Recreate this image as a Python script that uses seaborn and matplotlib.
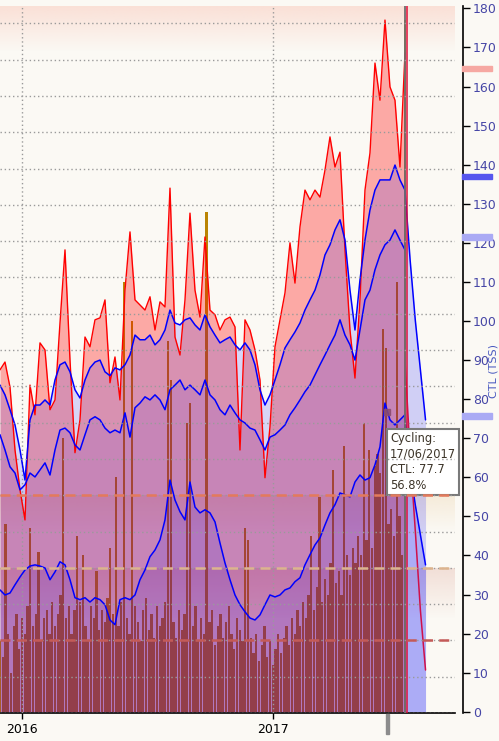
import numpy as np
import pandas as pd
import seaborn as sns
import matplotlib.pyplot as plt
import matplotlib.dates as mdates
from matplotlib.patches import Rectangle
from matplotlib.ticker import MultipleLocator
from matplotlib.transforms import blended_transform_factory

sns.set_theme(style="white")
plt.rcParams['font.family'] = ['DejaVu Sans']

# --- data --------------------------------------------------------------
start_day = '2015-11-30'
today = '2017-07-13'
proj_end = '2017-08-12'

# red stress line (light red fill)
red_line = [87.5, 89.5, 83.1, 67.0, 56.8, 49.1, 83.6, 76.0, 94.4, 92.6,
            77.3, 79.8, 99.5, 118.2, 90.0, 66.3, 74.7, 95.9, 93.4, 100.3,
            100.8, 105.4, 84.2, 90.8, 79.8, 107.9, 122.8, 105.4, 104.1, 102.8,
            106.2, 97.7, 104.9, 103.6, 134.0, 95.9, 91.3, 105.4, 127.6, 107.9,
            101.0, 121.5, 102.8, 101.6, 97.7, 100.3, 101.0, 98.5, 67.0, 100.3,
            97.7, 92.6, 84.9, 59.9, 72.9, 93.4, 100.3, 107.2, 120.0, 109.7,
            124.1, 133.5, 131.0, 133.5, 131.7, 138.6, 147.1, 139.4, 143.2, 118.2,
            97.7, 85.4, 105.4, 133.5, 143.0, 166.0, 156.5, 177.0, 159.9, 156.5,
            139.4, 168.6]
# upper blue line
upper_blue = [83.6, 81.1, 77.3, 73.4, 67.0, 59.3, 74.7, 78.5, 78.5, 79.8,
              78.5, 84.9, 88.8, 89.5, 87.0, 82.4, 80.3, 84.9, 88.0, 89.5,
              90.0, 87.0, 86.0, 88.0, 87.5, 88.8, 91.3, 96.4, 95.2, 95.2,
              96.4, 93.9, 95.2, 97.7, 102.8, 99.5, 99.0, 100.3, 100.8, 99.0,
              97.7, 101.6, 98.5, 96.4, 94.4, 95.2, 95.9, 93.9, 92.6, 94.4,
              92.6, 88.8, 82.4, 78.5, 81.1, 84.9, 88.8, 93.1, 95.2, 97.2,
              99.5, 102.8, 105.4, 107.9, 111.8, 116.9, 119.5, 123.3, 125.9, 120.7,
              107.9, 97.7, 110.5, 120.7, 128.4, 133.5, 136.1, 136.1, 136.1, 139.9,
              136.1, 133.5]
# second blue line
mid_blue = [70.9, 67.0, 62.7, 61.1, 56.8, 58.1, 61.1, 60.1, 61.9, 63.7,
            60.6, 67.0, 72.1, 72.6, 71.4, 68.3, 67.0, 70.9, 74.7, 75.5,
            74.7, 72.6, 71.4, 72.1, 71.4, 76.5, 70.3, 77.8, 79.0, 80.6,
            79.8, 81.1, 79.8, 77.3, 82.4, 83.6, 84.9, 82.4, 83.6, 82.4,
            81.1, 84.9, 81.1, 79.8, 77.3, 76.0, 78.5, 76.5, 74.7, 73.9,
            72.6, 72.1, 69.6, 67.0, 70.3, 70.9, 72.1, 73.4, 76.0, 77.8,
            79.8, 81.9, 83.6, 86.2, 88.8, 91.3, 93.9, 96.4, 100.3, 96.4,
            93.9, 90.0, 97.7, 105.4, 107.9, 113.1, 116.9, 119.5, 120.7, 123.3,
            120.7, 118.2]
# CTL (right axis)
ctl = [31.2, 29.9, 30.4, 32.5, 34.5, 36.3, 37.3, 37.6, 37.3, 36.8,
       33.8, 35.8, 38.4, 37.6, 33.8, 29.2, 28.7, 29.2, 28.1, 29.2,
       28.7, 27.4, 23.5, 22.3, 28.7, 29.2, 28.7, 29.9, 33.8, 36.3,
       39.7, 41.4, 44.0, 49.1, 59.3, 54.2, 51.2, 49.1, 58.8, 52.4,
       50.9, 51.7, 50.9, 48.6, 43.2, 38.1, 33.8, 29.9, 27.4, 25.6,
       24.0, 23.5, 24.8, 27.4, 29.9, 29.4, 29.9, 31.2, 31.7, 33.3,
       34.3, 37.6, 40.2, 42.7, 44.5, 47.8, 50.9, 53.0, 56.0, 55.5,
       55.0, 58.8, 60.6, 59.3, 59.9, 63.2, 67.8, 79.0, 74.7, 73.4,
       74.7, 76.0]

# projection after today
red_proj = [90.0, 66.0, 46.5, 26.0, 10.7]
upper_proj = [133.5, 115.6, 100.3, 87.5, 74.7]
ctl_proj = [76.0, 61.9, 53.0, 45.3, 37.6]

# daily stress bars
daily_stress = [18, 14, 48, 20, 10, 22, 25, 16, 24, 20,
                27, 47, 22, 25, 41, 18, 24, 26, 20, 28,
                22, 25, 30, 70, 24, 27, 20, 26, 45, 28,
                40, 22, 18, 27, 24, 36, 21, 26, 23, 29,
                42, 25, 60, 22, 28, 110, 24, 20, 100, 27,
                23, 18, 26, 29, 21, 25, 19, 27, 22, 24,
                28, 95, 85, 23, 19, 26, 21, 25, 74, 79,
                22, 27, 18, 24, 20, 128, 23, 26, 17, 22,
                25, 19, 23, 27, 20, 16, 24, 21, 18, 47,
                44, 19, 15, 20, 13, 17, 22, 14, 18, 12,
                16, 20, 15, 19, 22, 17, 24, 20, 26, 22,
                28, 24, 30, 45, 26, 32, 55, 28, 34, 30,
                38, 62, 33, 36, 30, 68, 40, 35, 42, 38,
                45, 40, 74, 44, 67, 42, 63, 66, 61, 98,
                93, 48, 52, 45, 110, 50, 40, 177]

# zones on the hidden left scale (0..194.8)
left_top = 194.8
zone_lines = [20, 40, 60]
zone_colors = ['#c45a58', '#dcb48e', '#e47a5c']

# current-value markers on the right axis
marker_vals = [164.7, 136.9, 121.5, 75.7]
marker_cols = ['#f6a8a2', '#5656ee', '#aaaaf4', '#aaaaf4']

tooltip_date = '2017-06-17'
tooltip_ctl = 77.7
tooltip_pct = '56.8%'

dates = pd.date_range(start_day, today, periods=len(ctl))
pdates = pd.date_range(today, proj_end, periods=len(ctl_proj))
bdates = pd.date_range(start_day, today, periods=len(daily_stress))

bg = '#fbf9f4'
fig = plt.figure(figsize=(4.99, 7.41), dpi=100, facecolor=bg)
ax = fig.add_axes([0, 1 - 713 / 741, 455 / 499, 707 / 741])
ax.set_facecolor(bg)

# hidden left scale for grid and zones (twinx resets ax ticks, so make it first)
ax_g = ax.twinx()

# zone gradients (under everything)
def band(y0, y1, rgb, a_top):
    n = 64
    grad = np.zeros((n, 1, 4))
    grad[:, 0, :3] = np.array(rgb) / 255
    grad[:, 0, 3] = np.linspace(0, a_top, n)
    ax.imshow(grad, extent=[0, 1, y0 / left_top, y1 / left_top], origin='lower',
              transform=ax.transAxes, aspect='auto', zorder=0.2, interpolation='bilinear')

band(182, left_top, (250, 215, 204), 0.75)
band(50, 60, (242, 226, 200), 0.6)
band(26, 40, (236, 206, 196), 0.6)

# bars
ax.bar(bdates, daily_stress, width=3.3, color='#ba8403', linewidth=0, zorder=0.8)

# fills
ax.fill_between(dates, red_line, 0, color='#ff0000', alpha=0.32, lw=0, zorder=1)
ax.fill_between(dates, upper_blue, 0, color='#0000ff', alpha=0.14, lw=0, zorder=1)
ax.fill_between(dates, mid_blue, 0, color='#0000ff', alpha=0.08, lw=0, zorder=1)
ax.fill_between(dates, ctl, 0, color='#0000ff', alpha=0.10, lw=0, zorder=1)
ax.fill_between(pdates, upper_proj, 0, color='#0000ff', alpha=0.17, lw=0, zorder=1)
ax.fill_between(pdates, ctl_proj, 0, color='#0000ff', alpha=0.17, lw=0, zorder=1)

# lines
sns.lineplot(x=dates, y=red_line, ax=ax, color='#ff0000', lw=1.0, zorder=3)
sns.lineplot(x=dates, y=upper_blue, ax=ax, color='#0000ff', lw=1.1, zorder=3)
sns.lineplot(x=dates, y=mid_blue, ax=ax, color='#0000ff', lw=1.1, zorder=3)
sns.lineplot(x=dates, y=ctl, ax=ax, color='#0000ff', lw=1.1, zorder=3)
sns.lineplot(x=pdates, y=upper_proj, ax=ax, color='#0000ff', lw=1.1, zorder=3)
sns.lineplot(x=pdates, y=ctl_proj, ax=ax, color='#0000ff', lw=1.1, zorder=3)
sns.lineplot(x=pdates, y=red_proj, ax=ax, color='#d0104a', lw=1.1, zorder=3)

# today markers
ax.axvline(pd.Timestamp(today), color='#6e6e6e', lw=1.3, zorder=4)
ax.axvline(pd.Timestamp(today) + pd.Timedelta(days=3), color='#e0103a', lw=1.1, zorder=4)

ax.set_xlim(pd.Timestamp('2015-11-30'), pd.Timestamp('2017-09-24'))
ax.set_ylim(-0.3, 180.6)

# axes styling
ax.xaxis.set_major_locator(mdates.YearLocator())
ax.xaxis.set_major_formatter(mdates.DateFormatter('%Y'))
ax.yaxis.set_major_locator(MultipleLocator(10))
ax.yaxis.tick_right()
ax.tick_params(axis='y', right=True, left=False, labelright=True, labelleft=False,
               length=5, width=1, color='black', labelcolor='#4646a6', labelsize=9, pad=2)
ax.tick_params(axis='x', bottom=True, length=4, width=1, color='black',
               labelcolor='black', labelsize=9, pad=3)
for s in ['left', 'top']:
    ax.spines[s].set_visible(False)
ax.spines['right'].set_position(('outward', 6))
for s in ['right', 'bottom']:
    ax.spines[s].set_color('black')
    ax.spines[s].set_linewidth(1.2)
ax.set_axisbelow(False)
ax.grid(axis='x', color='#9a9a9a', linestyle=(0, (1, 2)), lw=1)
ax.grid(axis='y', visible=False)
ax.set_xlabel('')
ax.set_ylabel('')

ax_g.set_ylim(0, left_top)
ax_g.yaxis.set_major_locator(MultipleLocator(10))
ax_g.tick_params(right=False, left=False, labelright=False, labelleft=False)
for s in ax_g.spines.values():
    s.set_visible(False)
ax_g.grid(axis='y', color='#9a9a9a', linestyle=(0, (1, 2)), lw=1)
ax_g.grid(axis='x', visible=False)
for v, c in zip(zone_lines, zone_colors):
    ax_g.axhline(v, color=c, lw=1.8, linestyle=(0, (4, 2.5)), zorder=2)

# right-axis value markers
trans = blended_transform_factory(ax.transAxes, ax.transData)
for v, c in zip(marker_vals, marker_cols):
    ax.add_patch(Rectangle((1.0154, v - 0.65), 0.066, 1.3, transform=trans,
                           color=c, clip_on=False, zorder=5))

# slider marker on x axis
td = pd.Timestamp(tooltip_date)
trans_x = blended_transform_factory(ax.transData, ax.transAxes)
ax.add_patch(Rectangle((mdates.date2num(td) - 2.2, -0.029), 4.4, 0.027,
                       transform=trans_x, color='#8c8c8c', clip_on=False, zorder=5))

# hover marker + tooltip
ax.plot([td], [tooltip_ctl - 1], marker='s', ms=5, color='#8a4d6e', alpha=0.85, zorder=6)
ax.annotate('Cycling:\n' + td.strftime('%d/%m/%Y') + '\nCTL: ' + str(tooltip_ctl) + '\n' + tooltip_pct,
            xy=(td, tooltip_ctl), xytext=(3, -24), textcoords='offset pixels',
            ha='left', va='top', fontsize=8.3, color='#3c3428', linespacing=1.25,
            bbox=dict(boxstyle='square,pad=0.25', fc='white', ec='#7a7a7a', lw=1.5),
            annotation_clip=False, zorder=10)

fig.text(0.999, 0.50, 'CTL (TSS)', rotation=90, color='#4a5ac0', fontsize=8,
         ha='right', va='center')

fig.savefig('out.png', dpi=100, facecolor=bg)
